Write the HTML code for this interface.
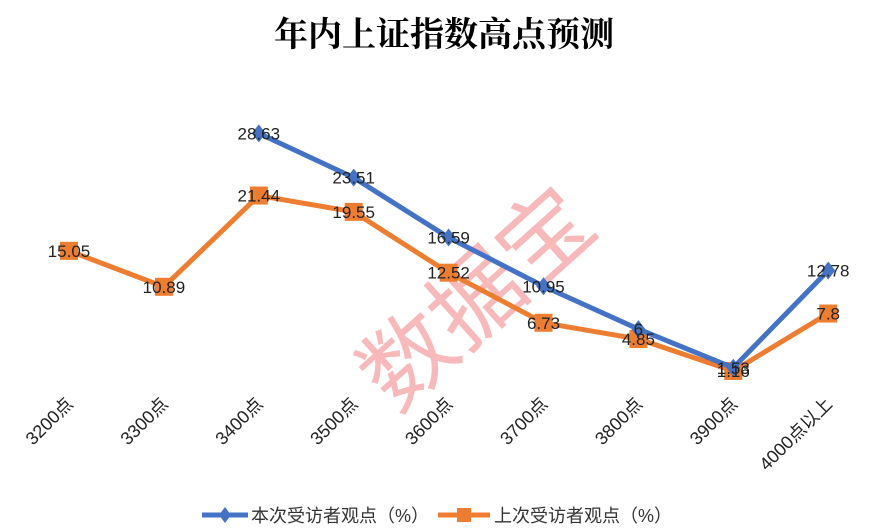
<!DOCTYPE html>
<html><head><meta charset="utf-8">
<style>
body{margin:0;background:#fff;}
svg{display:block;font-family:"Liberation Sans","Noto Sans CJK SC",sans-serif;}
</style></head>
<body>
<svg id="chart" width="889" height="532" viewBox="0 0 889 532">
  <text x="444" y="46" text-anchor="middle" font-size="34" font-family="'Noto Serif CJK SC','Noto Sans CJK SC',serif" font-weight="bold" fill="#000">年内上证指数高点预测</text>
  <text x="478" y="330" text-anchor="middle" font-size="92" fill="#f08080" fill-opacity="0.55" transform="rotate(-42 478 300)">数据宝</text>
  <g id="plot"></g>
  <g id="xlabels"></g>
  <g>
    <g>
      <line x1="202" y1="515" x2="248" y2="515" stroke="#4472c4" stroke-width="5"/>
      <path d="M225 507 L231 515 L225 523 L219 515 Z" fill="#4472c4"/>
      <text x="251" y="522" font-size="18" fill="#333">本次受访者观点（%）</text>
    </g>
    <g>
      <line x1="438" y1="515" x2="490" y2="515" stroke="#ed7d31" stroke-width="5"/>
      <rect x="457" y="508" width="14" height="14" fill="#ed7d31"/>
      <text x="494" y="522" font-size="18" fill="#333">上次受访者观点（%）</text>
    </g>
  </g>
</svg>
<script>
const categories=["3200点","3300点","3400点","3500点","3600点","3700点","3800点","3900点","4000点以上"];
const currentValues=[null,null,28.63,23.51,16.59,10.95,6,1.53,12.78];
const previousValues=[15.05,10.89,21.44,19.55,12.52,6.73,4.85,1.16,7.8];
const currentLabels=["","","28.63","23.51","16.59","10.95","6","1.53","12.78"];
const previousLabels=["15.05","10.89","21.44","19.55","12.52","6.73","4.85","1.16","7.8"];

const NS="http://www.w3.org/2000/svg";
const xPos=i=>69+i*94.9;
const yPos=v=>381-v*8.65;
const plot=document.getElementById('plot');
const xl=document.getElementById('xlabels');
function mk(tag,attrs,parent){const e=document.createElementNS(NS,tag);for(const k in attrs)e.setAttribute(k,attrs[k]);parent.appendChild(e);return e;}

function series(vals,labels,color,marker,name){
  const g=mk('g',{},plot);
  
  
  let d='';
  vals.forEach((v,i)=>{if(v==null)return;d+=(d?'L':'M')+xPos(i)+' '+yPos(v)+' ';});
  const p=mk('path',{d:d,fill:'none',stroke:color,'stroke-width':5,'stroke-linejoin':'round'},g);
  
  
  vals.forEach((v,i)=>{
    if(v==null)return;
    const x=xPos(i),y=yPos(v);
    let m;
    if(marker==='diamond') m=mk('path',{d:`M${x} ${y-9}L${x+7} ${y}L${x} ${y+9}L${x-7} ${y}Z`,fill:color},g);
    else m=mk('rect',{x:x-9,y:y-9,width:18,height:18,fill:color},g);
    
    
  });
  return g;
}
series(previousValues,previousLabels,'#ed7d31','square','previous');
series(currentValues,currentLabels,'#4472c4','diamond','current');
const lg=mk('g',{},plot);


function labels(vals,labs){
  vals.forEach((v,i)=>{
    if(v==null)return;
    const t=mk('text',{x:xPos(i),y:yPos(v)+6,'text-anchor':'middle','font-size':17,fill:'#222'},lg);
    t.textContent=labs[i];
    
    
  });
}
labels(previousValues,previousLabels);
labels(currentValues,currentLabels);
categories.forEach((c,i)=>{
  const x=xPos(i)+5,y=405;
  const t=mk('text',{x:x,y:y,'text-anchor':'end','font-size':18,fill:'#222',transform:`rotate(-45 ${x} ${y})`},xl);
  t.textContent=c;
  
  
});
</script>
</body></html>
